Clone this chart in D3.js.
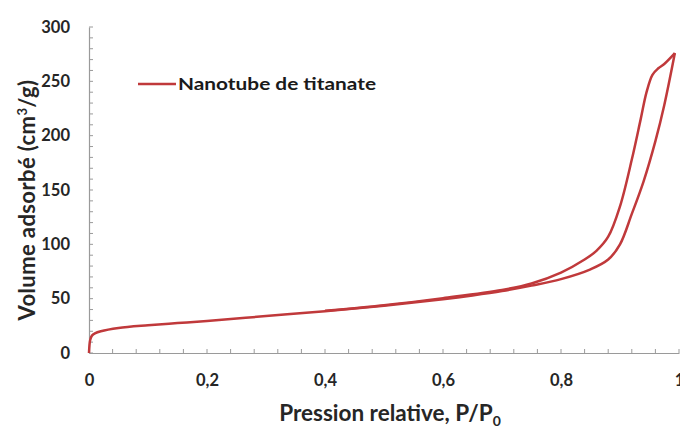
<!DOCTYPE html>
<html><head><meta charset="utf-8">
<script src="https://cdn.jsdelivr.net/npm/d3@7"></script>
<style>
html,body{margin:0;padding:0;background:#fff;}
svg{display:block;}
text{font-family:Lato,"Open Sans",sans-serif;font-weight:bold;}
</style></head>
<body>
<svg id="c" width="680" height="428"></svg>
<script>
// Data
const seriesName = "Nanotube de titanate";
const adsP = [0.0, 0.002, 0.005, 0.01, 0.02, 0.05, 0.1, 0.15, 0.2, 0.3, 0.4, 0.5, 0.6, 0.65, 0.7, 0.75, 0.8, 0.85, 0.88, 0.9, 0.92, 0.94, 0.96, 0.975, 0.993];
const adsV = [0, 12, 16, 18, 20, 23, 25.5, 27.5, 29.5, 34, 38.5, 43.5, 49.5, 53, 57, 62, 68, 77, 86, 100, 128, 158, 195, 228, 276];
const desP = [0.993, 0.975, 0.965, 0.955, 0.945, 0.935, 0.92, 0.9, 0.88, 0.86, 0.84, 0.8, 0.75, 0.7, 0.6, 0.5, 0.4];
const desV = [276, 266, 262, 256, 240, 215, 178, 135, 107, 94, 86, 74, 64, 58, 50.5, 44, 38.8];
const xTicks = [0, 0.2, 0.4, 0.6, 0.8, 1];
const xTickLabels = ["0", "0,2", "0,4", "0,6", "0,8", "1"];
const yTicks = [0, 50, 100, 150, 200, 250, 300];
const xTitle = "Pression relative, P/P";
const xTitleSub = "0";

const svg = d3.select("#c");
const x = d3.scaleLinear().domain([0, 1]).range([89, 679]);
const y = d3.scaleLinear().domain([0, 300]).range([353, 27]);
const axisColor = "#9a9a9a";
const lineColor = "#c0393b";
const textColor = "#262626";

// minor ticks x (every 0.04)
const xMinor = d3.range(0, 1.0001, 0.04);
svg.append("g").selectAll("line").data(xMinor).join("line")
  .attr("x1", d => x(d)).attr("x2", d => x(d))
  .attr("y1", y(0)).attr("y2", y(0) - 4)
  .attr("stroke", axisColor).attr("stroke-width", 1);
// minor ticks y (every 10)
const yMinor = d3.range(0, 300.01, 10);
svg.append("g").selectAll("line").data(yMinor).join("line")
  .attr("x1", x(0)).attr("x2", x(0) + 4)
  .attr("y1", d => y(d)).attr("y2", d => y(d))
  .attr("stroke", axisColor).attr("stroke-width", 1);

// axes
const xAxis = d3.axisBottom(x).tickValues(xTicks).tickSize(0).tickPadding(21)
  .tickFormat((d, i) => xTickLabels[i]);
const gx = svg.append("g").attr("transform", `translate(0,${y(0)})`).call(xAxis);
gx.select(".domain").attr("stroke", axisColor).attr("stroke-width", 1.2);
gx.selectAll("text").attr("font-size", 16.5).attr("fill", textColor)
  .attr("font-family", "Lato, sans-serif").attr("font-weight", "bold");

const yAxis = d3.axisLeft(y).tickValues(yTicks).tickSize(0).tickPadding(19);
const gy = svg.append("g").attr("transform", `translate(${x(0)},0)`).call(yAxis);
gy.select(".domain").attr("stroke", axisColor).attr("stroke-width", 1.2);
gy.selectAll("text").attr("font-size", 16.5).attr("fill", textColor)
  .attr("font-family", "Lato, sans-serif").attr("font-weight", "bold");

// titles
const xt = svg.append("text").attr("x", 390).attr("y", 421).attr("text-anchor", "middle")
  .attr("font-size", 22.5).attr("fill", textColor);
xt.append("tspan").text(xTitle);
xt.append("tspan").text(xTitleSub).attr("font-size", 14).attr("dy", 5);

const yt = svg.append("text").attr("transform", "translate(35,200) rotate(-90)")
  .attr("text-anchor", "middle").attr("font-size", 22).attr("fill", textColor)
  .attr("letter-spacing", 0.4);
yt.append("tspan").text("Volume adsorbé (cm");
yt.append("tspan").text("3").attr("font-size", 13).attr("dy", -8);
yt.append("tspan").text("/g)").attr("dy", 8);

// curves
const cLine = d3.line().x(d => x(d[0])).y(d => y(d[1])).curve(d3.curveCatmullRom.alpha(0.5));
const ads = adsP.map((p, i) => [p, adsV[i]]);
const des = desP.map((p, i) => [p, desV[i]]);
svg.append("path").attr("d", cLine(des)).attr("fill", "none")
  .attr("stroke", lineColor).attr("stroke-width", 2.5).attr("stroke-linejoin", "round");
svg.append("path").attr("d", cLine(ads)).attr("fill", "none")
  .attr("stroke", lineColor).attr("stroke-width", 2.5).attr("stroke-linejoin", "round");

// legend
svg.append("line").attr("x1", 138).attr("x2", 176).attr("y1", 84).attr("y2", 84)
  .attr("stroke", lineColor).attr("stroke-width", 2.5);
svg.append("text").attr("x", 178).attr("y", 90).attr("font-size", 17)
  .attr("fill", "#1a1a1a").attr("textLength", 198).attr("lengthAdjust", "spacingAndGlyphs")
  .text(seriesName);
</script>
</body></html>
